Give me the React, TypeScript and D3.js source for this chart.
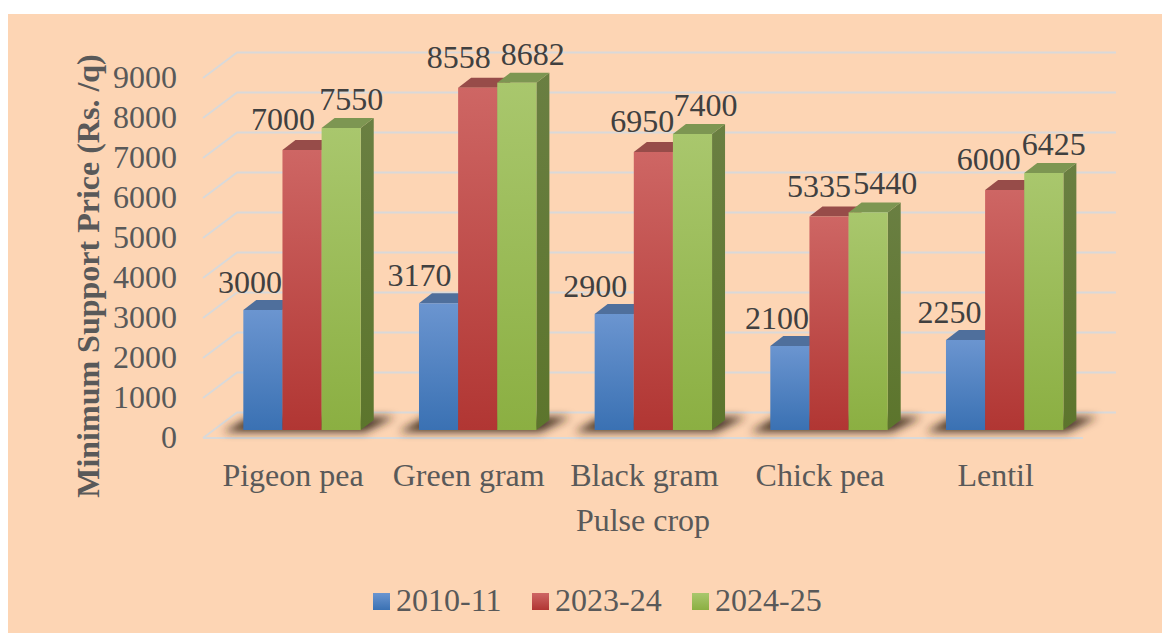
import React from 'react';
import * as d3 from 'd3';

const crops = ['Pigeon pea', 'Green gram', 'Black gram', 'Chick pea', 'Lentil'];
const seasons = ['2010-11', '2023-24', '2024-25'];
const msp2010 = [3000, 3170, 2900, 2100, 2250];
const msp2023 = [7000, 8558, 6950, 5335, 6000];
const msp2024 = [7550, 8682, 7400, 5440, 6425];
const yTicks = [0, 1000, 2000, 3000, 4000, 5000, 6000, 7000, 8000, 9000];

const seriesValues = [msp2010, msp2023, msp2024];

// colours per series: gradient top, gradient bottom, top face, side top, side bottom
const palette = [
  { hi: '#6b95d0', lo: '#3a71b3', cap: '#4f6f9c', sideHi: '#46628c', sideLo: '#2c5486' },
  { hi: '#ce6664', lo: '#b13633', cap: '#974c49', sideHi: '#8a4443', sideLo: '#822825' },
  { hi: '#a9c76d', lo: '#8baf42', cap: '#7d9652', sideHi: '#6a7f42', sideLo: '#5c752c' },
];

// label nudges from the bar's top centre, by series then crop
const labelDx = [
  [-13, -19, -19, -13, -16],
  [-19, -19, -11, -10, -16],
  [10, 16, 13, 17, 10],
];
const labelDy = [-17, -20, -18];

const WIDTH = 1162;
const HEIGHT = 633;
const FONT = '"Liberation Serif", "Times New Roman", serif';
const DEPTH_X = 13;
const DEPTH_Y = 10;
const WALL_X = 34;
const WALL_Y = 25.5;
const LEFT = 203;
const FRONT_END = 1083;

const App = () => {
  const x0 = d3.scaleBand<string>().domain(crops).range([214.2, 1092.5]);
  const x1 = d3.scaleBand<string>().domain(seasons).range([-58.7, 58.7]);
  const y = d3.scaleLinear().domain([0, 9000]).range([430, 70]);
  const yFloor = y(0);
  const poly = d3.line();

  return (
    <svg
      width={WIDTH}
      height={HEIGHT}
      style={{ position: 'absolute', left: 0, top: 0, display: 'block' }}
      fontFamily={FONT}
    >
      <defs>
        <filter id="soft" x="-25%" y="-100%" width="150%" height="300%">
          <feGaussianBlur stdDeviation="4" />
        </filter>
        {palette.map((c, i) => (
          <React.Fragment key={i}>
            <linearGradient id={`front${i}`} x1="0" y1="0" x2="0" y2="1">
              <stop offset="0" stopColor={c.hi} />
              <stop offset="1" stopColor={c.lo} />
            </linearGradient>
            <linearGradient id={`side${i}`} x1="0" y1="0" x2="0" y2="1">
              <stop offset="0" stopColor={c.sideHi} />
              <stop offset="1" stopColor={c.sideLo} />
            </linearGradient>
          </React.Fragment>
        ))}
      </defs>

      <rect x={8} y={14} width={WIDTH - 8} height={HEIGHT - 14} fill="#fdd5b4" />

      {/* wall and side gridlines */}
      <g fill="none" stroke="#d9d9d9" strokeWidth={2}>
        {yTicks.map((t) => {
          const yy = y(t) + 8;
          return (
            <path
              key={t}
              d={poly([
                [LEFT, yy],
                [LEFT + WALL_X, yy - WALL_Y],
                [FRONT_END + WALL_X - 1, yy - WALL_Y],
              ]) as string}
            />
          );
        })}
        <path d={poly([[LEFT, yFloor + 8], [FRONT_END, yFloor + 8]]) as string} />
      </g>

      {/* floor shadows */}
      {crops.map((c) => {
        const a = (x0(c) as number) + x0.bandwidth() / 2 + (x1(seasons[0]) as number);
        const b = a + x1.bandwidth() * seasons.length;
        return (
          <path
            key={c}
            filter="url(#soft)"
            fill="#33231b"
            fillOpacity={0.9}
            d={(poly([
              [a - 20, yFloor + 2],
              [b + 4, yFloor + 2],
              [b + 34, yFloor - 13],
              [a + 6, yFloor - 13],
            ]) as string)}
          />
        );
      })}

      {/* bars */}
      {crops.map((c, ci) => {
        const cx = (x0(c) as number) + x0.bandwidth() / 2;
        return (
          <g key={c}>
            {seasons.map((s, si) => {
              const left = cx + (x1(s) as number);
              const right = left + x1.bandwidth();
              const top = y(seriesValues[si][ci]);
              return (
                <g key={s}>
                  <path
                    fill={`url(#side${si})`}
                    d={poly([
                      [right, top],
                      [right + DEPTH_X, top - DEPTH_Y],
                      [right + DEPTH_X, yFloor - DEPTH_Y],
                      [right, yFloor],
                    ]) as string}
                  />
                  <path
                    fill={palette[si].cap}
                    d={poly([
                      [left, top],
                      [left + DEPTH_X, top - DEPTH_Y],
                      [right + DEPTH_X, top - DEPTH_Y],
                      [right, top],
                    ]) as string}
                  />
                  <rect
                    x={left}
                    y={top}
                    width={x1.bandwidth()}
                    height={yFloor - top}
                    fill={`url(#front${si})`}
                  />
                </g>
              );
            })}
          </g>
        );
      })}

      {/* data labels */}
      <g fontSize={32} fill="#404040" textAnchor="middle">
        {crops.map((c, ci) =>
          seasons.map((s, si) => {
            const cx = (x0(c) as number) + x0.bandwidth() / 2 + (x1(s) as number) + x1.bandwidth() / 2;
            return (
              <text key={s} x={cx + labelDx[si][ci]} y={y(seriesValues[si][ci]) + labelDy[si]}>
                {seriesValues[si][ci]}
              </text>
            );
          })
        )}
      </g>

      {/* axes text */}
      <g fontSize={32} fill="#595959">
        {yTicks.map((t) => (
          <text key={t} x={177} y={y(t) + 18} textAnchor="end">
            {t}
          </text>
        ))}
        {crops.map((c) => (
          <text key={c} x={(x0(c) as number) + x0.bandwidth() / 2 - 9} y={486} textAnchor="middle">
            {c}
          </text>
        ))}
        <text x={643} y={531} textAnchor="middle">
          Pulse crop
        </text>
        <text
          transform="translate(99,276) rotate(-90)"
          textAnchor="middle"
          fontWeight="bold"
        >
          Minimum Support Price (Rs. /q)
        </text>
      </g>

      {/* legend */}
      <g fontSize={32} fill="#595959">
        {seasons.map((s, i) => {
          const lx = d3.scaleOrdinal<string, number>().domain(seasons).range([373, 532, 692]);
          return (
            <g key={s}>
              <rect x={lx(s)} y={593} width={17} height={17} fill={`url(#front${i})`} />
              <text x={lx(s) + 23} y={611}>
                {s}
              </text>
            </g>
          );
        })}
      </g>
    </svg>
  );
};

export default App;
